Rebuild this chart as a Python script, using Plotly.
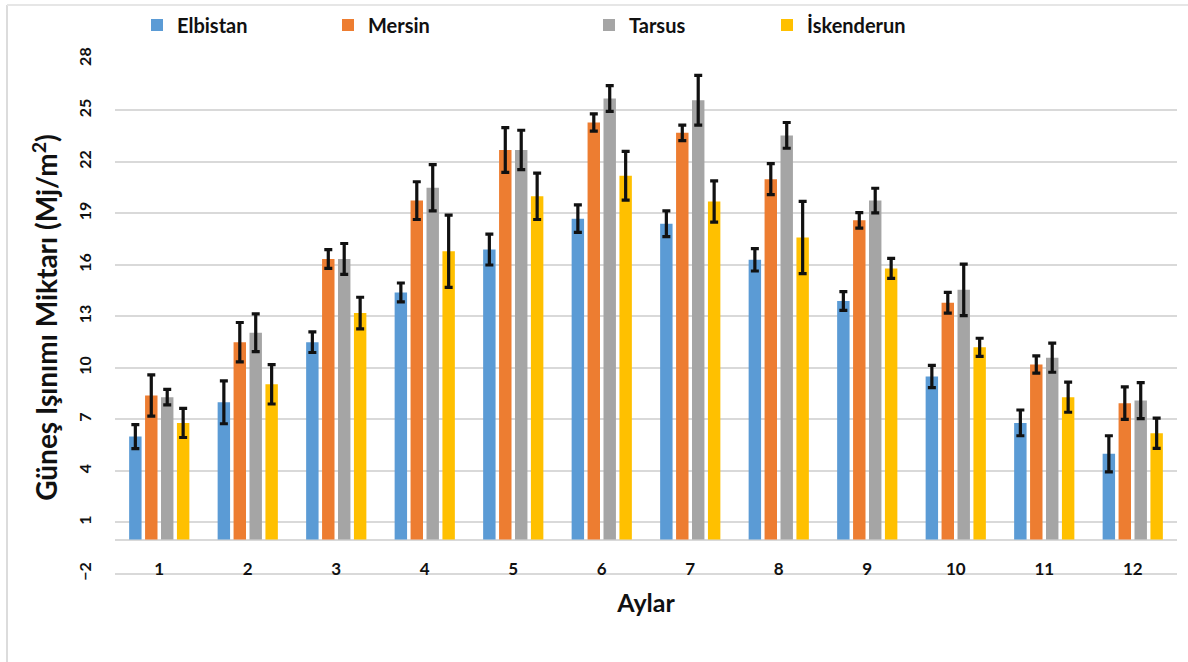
import plotly.graph_objects as go

# Monthly mean solar radiation (MJ/m²) with standard deviations
months = ["1", "2", "3", "4", "5", "6", "7", "8", "9", "10", "11", "12"]

elbistan = [6.0, 8.0, 11.5, 14.4, 16.9, 18.7, 18.4, 16.3, 13.9, 9.5, 6.8, 5.0]
elbistan_sd = [0.7, 1.25, 0.6, 0.55, 0.9, 0.8, 0.75, 0.65, 0.55, 0.65, 0.75, 1.05]

mersin = [8.4, 11.5, 16.35, 19.75, 22.7, 24.3, 23.7, 21.0, 18.6, 13.8, 10.2, 7.95]
mersin_sd = [1.2, 1.15, 0.55, 1.1, 1.3, 0.5, 0.45, 0.9, 0.45, 0.6, 0.5, 0.95]

tarsus = [8.3, 12.05, 16.35, 20.5, 22.7, 25.7, 25.6, 23.55, 19.75, 14.55, 10.6, 8.1]
tarsus_sd = [0.45, 1.1, 0.9, 1.35, 1.15, 0.75, 1.45, 0.75, 0.72, 1.5, 0.85, 1.05]

iskenderun = [6.8, 9.05, 13.2, 16.8, 20.0, 21.2, 19.7, 17.6, 15.8, 11.2, 8.3, 6.2]
iskenderun_sd = [0.85, 1.15, 0.92, 2.1, 1.35, 1.42, 1.2, 2.1, 0.58, 0.53, 0.88, 0.88]

series = [
    ("Elbistan", elbistan, elbistan_sd, "#5B9BD5"),
    ("Mersin", mersin, mersin_sd, "#ED7D31"),
    ("Tarsus", tarsus, tarsus_sd, "#A5A5A5"),
    ("İskenderun", iskenderun, iskenderun_sd, "#FFC000"),
]

W, H = 1188, 662
ML, MR, MT, MB = 115, 11, 59, 86
PW, PH = W - ML - MR, H - MT - MB

def px_x(p):
    return (p - ML) / PW

def px_y(p):
    return (H - MB - p) / PH

FONT = "Lato"
legend_left = [137, 328, 589, 767]

fig = go.Figure()
for i, (name, vals, sd, color) in enumerate(series):
    fig.add_trace(go.Bar(
        name=name, x=months, y=vals,
        marker=dict(color=color, line=dict(width=0)),
        error_y=dict(type="data", array=sd, visible=True,
                     color="#111111", thickness=3.2, width=4),
        legend="legend" if i == 0 else f"legend{i+1}",
    ))

legend_style = dict(
    orientation="h", yanchor="middle", y=px_y(25), xanchor="left",
    font=dict(family=FONT, size=20, color="#111111", weight="bold"),
    bgcolor="rgba(0,0,0,0)", borderwidth=0,
)
layout_legends = {}
for i, lx in enumerate(legend_left):
    key = "legend" if i == 0 else f"legend{i+1}"
    layout_legends[key] = dict(legend_style, x=px_x(lx))

fig.update_layout(
    width=W, height=H,
    margin=dict(l=ML, r=MR, t=MT, b=MB, autoexpand=False),
    paper_bgcolor="white", plot_bgcolor="white",
    barmode="group", bargap=0.28, bargroupgap=0.22,
    showlegend=True,
    **layout_legends,
    xaxis=dict(
        type="category", showgrid=False, showline=False, ticks="",
        anchor="free", position=px_y(557), automargin=False,
        tickfont=dict(family=FONT, size=17, color="#111111", weight="bold"),
        title=dict(text="Aylar", standoff=16,
                   font=dict(family=FONT, size=25, color="#111111", weight="bold")),
    ),
    yaxis=dict(
        range=[-2.12, 28], tick0=-2, dtick=3, tickmode="linear",
        showgrid=True, gridcolor="#D9D9D9", gridwidth=1.5,
        zeroline=True, zerolinecolor="#D9D9D9", zerolinewidth=2,
        showline=False, ticks="", tickangle=-90, ticklabelstandoff=20,
        tickfont=dict(family=FONT, size=16, color="#111111", weight="bold"),
        title=dict(text="Güneş Işınımı Miktarı (Mj/m<sup>2</sup>)", standoff=8,
                   font=dict(family=FONT, size=28, color="#111111", weight="bold")),
    ),
    shapes=[
        dict(type="line", xref="paper", yref="paper",
             x0=px_x(7), x1=px_x(7), y0=px_y(5), y1=px_y(700),
             line=dict(color="#DCDCDC", width=2)),
        dict(type="line", xref="paper", yref="paper",
             x0=px_x(7), x1=px_x(1200), y0=px_y(5), y1=px_y(5),
             line=dict(color="#E6E6E6", width=2)),
    ],
)

fig.write_html("out.html")
